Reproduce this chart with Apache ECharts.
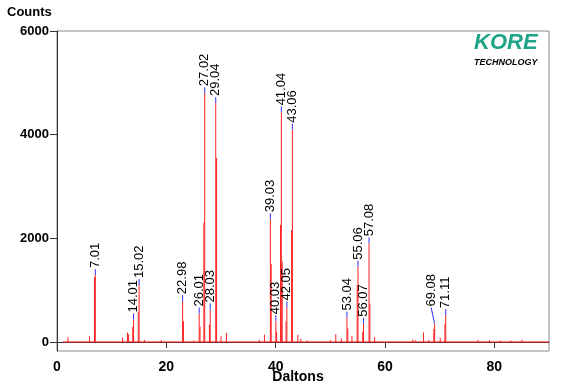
<!DOCTYPE html>
<html><head><meta charset="utf-8">
<script src="https://cdn.jsdelivr.net/npm/echarts@6/dist/echarts.min.js"></script>
<style>html,body{margin:0;padding:0;background:#fff}#c{width:568px;height:387px}</style>
</head><body><div id="c"></div>
<script>
// Axis ticks
const xTicks = [0, 20, 40, 60, 80];
const yTicks = [0, 2000, 4000, 6000];
const baselineMass = [1.1, 90];

// Spectrum spikes (mass in Daltons, counts)
const peakMass = [
  2.0, 5.95, 6.86, 7.01, 12.0, 12.9, 13.1, 13.85, 14.01, 14.87, 15.02, 16.0, 19.05,
  22.98, 23.13, 25.0, 26.01, 26.16, 26.87, 27.02, 27.88, 28.03, 29.04, 29.19, 30.0, 31.0,
  37.0, 37.95, 39.03, 39.18, 40.03, 40.18, 40.89, 41.04, 41.19, 41.9, 42.05, 42.91, 43.06,
  44.05, 44.6, 45.8, 50.0, 51.0, 52.0, 53.04, 53.19, 53.95, 54.91, 55.06, 55.92, 56.07,
  57.08, 57.23, 58.1, 65.1, 65.6, 67.05, 68.0, 68.93, 69.08, 70.1, 70.96, 71.11,
  77.0, 79.1, 81.1, 83.0, 85.05
];
const peakCounts = [
  95, 110, 1250, 1290, 85, 180, 150, 290, 433, 580, 1097, 40, 35,
  787, 400, 30, 549, 300, 2300, 4800, 330, 626, 4610, 3550, 110, 175,
  45, 140, 2367, 1500, 400, 200, 2260, 4430, 1550, 400, 665, 2160, 4095,
  140, 60, 30, 40, 150, 70, 472, 260, 115, 1100, 1451, 200, 350,
  1903, 740, 95, 50, 30, 185, 40, 250, 355, 80, 350, 516,
  40, 35, 30, 30, 45
];

// Labelled peaks
const labelMass = [7.01, 14.01, 15.02, 22.98, 26.01, 27.02, 28.03, 29.04, 39.03, 40.03, 41.04, 42.05, 43.06, 53.04, 55.06, 56.07, 57.08, 69.08, 71.11];
const labelCounts = [1290, 433, 1097, 787, 549, 4800, 626, 4610, 2367, 400, 4430, 665, 4095, 472, 1451, 350, 1903, 355, 516];
const labelText = ['7.01', '14.01', '15.02', '22.98', '26.01', '27.02', '28.03', '29.04', '39.03', '40.03', '41.04', '42.05', '43.06', '53.04', '55.06', '56.07', '57.08', '69.08', '71.11'];

const FONT = "'Liberation Sans', Arial, sans-serif";
// label leader adjustments (render styling)
const leaderShift = { '69.08': [-3.5, 16] };

const chart = echarts.init(document.getElementById('c'), null, { renderer: 'canvas' });
chart.setOption({
  animation: false,
  backgroundColor: '#ffffff',
  grid: { left: 57, right: 19, top: 31, bottom: 36, outerBoundsMode: 'none', containLabel: false,
          show: true, borderColor: '#8a8a8a', borderWidth: 1, backgroundColor: 'transparent' },
  xAxis: {
    type: 'value', min: 0, max: 90,
    name: 'Daltons', nameLocation: 'middle', nameGap: 19, nameMoveOverlap: false,
    nameTextStyle: { fontFamily: FONT, fontSize: 14, fontWeight: 'bold', color: '#000', padding: [0, 10, 0, 0] },
    axisLine: { show: true, lineStyle: { color: '#333', width: 1 } },
    axisTick: { show: true, length: 6, customValues: xTicks, lineStyle: { color: '#333' } },
    axisLabel: { customValues: xTicks, margin: 9, fontFamily: FONT, fontSize: 14, fontWeight: 'bold', color: '#000' },
    splitLine: { show: false }
  },
  yAxis: {
    type: 'value', min: -175, max: 6000,
    axisLine: { show: true, lineStyle: { color: '#333', width: 1 } },
    axisTick: { show: true, length: 7, customValues: yTicks, lineStyle: { color: '#333' } },
    axisLabel: { customValues: yTicks, formatter: v => String(v), margin: 8, fontFamily: FONT, fontSize: 13, fontWeight: 'bold', color: '#000' },
    splitLine: { show: false }
  },
  graphic: [
    { type: 'text', left: 7, top: 6, style: { text: 'Counts', font: "bold 13px " + FONT, fill: '#000' } },
    { type: 'text', left: 474, top: 32, style: { text: 'KORE', font: "italic bold 22px " + FONT, fill: '#1fa487' } },
    { type: 'text', left: 474, top: 58, style: { text: 'TECHNOLOGY', font: "italic bold 9px " + FONT, fill: '#000' } }
  ],
  series: [
    {
      type: 'line', data: baselineMass.map(m => [m, 0]), symbol: 'none',
      lineStyle: { color: '#ff2020', width: 1 }, silent: true, z: 2
    },
    {
      type: 'custom', z: 3,
      data: peakMass.map((m, i) => [m, peakCounts[i]]),
      encode: { x: 0, y: 1 },
      renderItem: function (params, api) {
        const p0 = api.coord([api.value(0), 0]);
        const p1 = api.coord([api.value(0), api.value(1)]);
        return { type: 'line', shape: { x1: p0[0], y1: p0[1], x2: p1[0], y2: p1[1] }, style: { stroke: '#ff2020', lineWidth: 1 } };
      }
    },
    {
      type: 'custom', z: 4,
      data: labelMass.map((m, i) => [m, labelCounts[i]]),
      encode: { x: 0, y: 1 },
      renderItem: function (params, api) {
        const i = params.dataIndex;
        const p = api.coord([api.value(0), api.value(1)]);
        const adj = leaderShift[labelText[i]] || [0, 6];
        const lx = p[0] + adj[0], ly = p[1] - adj[1];
        return {
          type: 'group', children: [
            { type: 'line', shape: { x1: p[0], y1: p[1], x2: lx, y2: ly }, style: { stroke: '#3030ff', lineWidth: 1 } },
            { type: 'text', x: lx, y: ly - 1, rotation: Math.PI / 2,
              style: { text: labelText[i], font: "13px " + FONT, fill: '#000', align: 'left', verticalAlign: 'middle' } }
          ]
        };
      }
    }
  ]
});
</script>
</body></html>
